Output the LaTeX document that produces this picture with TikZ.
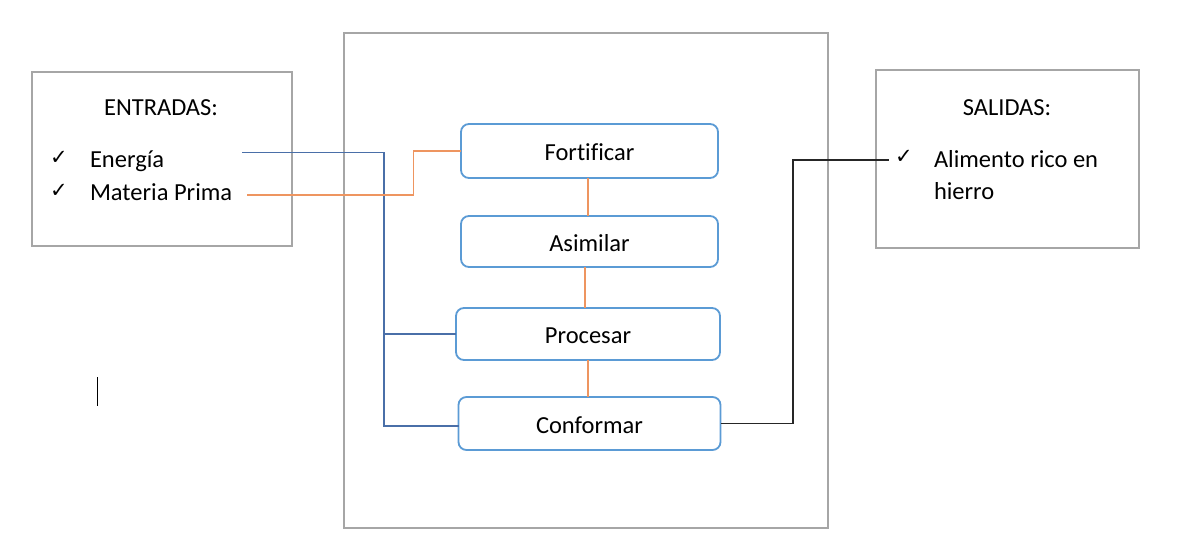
\documentclass[tikz,border=0pt]{standalone}
\usepackage{fontspec}
\setmainfont{Carlito}[Ligatures=NoCommon]
\newfontfamily\symf{DejaVu Sans}
\definecolor{boxgray}{HTML}{A6A6A6}
\definecolor{procblue}{HTML}{5B9BD5}
\definecolor{lineblue}{HTML}{4A6FA8}
\definecolor{lineorange}{HTML}{EE9560}
\definecolor{lineblack}{HTML}{262626}
\begin{document}
\begin{tikzpicture}[x=1pt,y=-1pt,
  graybox/.style={draw=boxgray,line width=2pt,inner sep=0pt,outer sep=0pt},
  procbox/.style={draw=procblue,line width=1.8pt,rounded corners=8pt,inner sep=0pt,outer sep=0pt,text height=19.5pt,text depth=0pt,font=\fontsize{24.5}{28}\selectfont},
  lbl/.style={inner sep=0pt,outer sep=0pt,font=\fontsize{24.5}{28}\selectfont},
  chk/.style={inner sep=0pt,outer sep=0pt,font=\symf\fontsize{21}{24}\selectfont},
  bluel/.style={draw=lineblue,line width=1.1pt},
  orangel/.style={draw=lineorange,line width=1.1pt},
  blackl/.style={draw=lineblack,line width=1.3pt}]
\useasboundingbox[fill=white] (0,0) rectangle (1177,559);
% outer boxes
\node[graybox,minimum width=260pt,minimum height=174pt] (entradas) at (162,159) {};
\node[graybox,minimum width=484pt,minimum height=495pt] (sistema) at (586,280.5) {};
\node[graybox,minimum width=263pt,minimum height=178pt] (salidas) at (1007.5,159) {};
% process boxes
\node[procbox,minimum width=257pt,minimum height=54pt] (fort) at (589.5,151) {Fortificar};
\node[procbox,minimum width=257pt,minimum height=51pt] (asim) at (589.5,241.5) {Asimilar};
\node[procbox,minimum width=264pt,minimum height=52pt] (proc) at (588,334) {Procesar};
\node[procbox,minimum width=262pt,minimum height=53pt] (conf) at (589.5,423.5) {Conformar};
% texts left
\node[lbl,anchor=base] (tent) at (161,116) {ENTRADAS:};
\node[chk,anchor=base west] (c1) at (50,164) {✓};
\node[chk,anchor=base west] (c2) at (50,197) {✓};
\node[lbl,anchor=base west] (ener) at (90,167) {Energía};
\node[lbl,anchor=base west] (mat) at (90,200) {Materia Prima};
% texts right
\node[lbl,anchor=base] (tsal) at (1007,116) {SALIDAS:};
\node[chk,anchor=base west] (c3) at (895,163) {✓};
\node[lbl,anchor=base west] (alim) at (934,167) {Alimento rico en};
\node[lbl,anchor=base west] (hier) at (934,199) {hierro};
% connector coordinates
\coordinate (eEnd) at (242,152.5);
\coordinate (mEnd) at (247,195);
\coordinate (bv) at (384,152.5);
\coordinate (ov) at (413.5,195);
\coordinate (kv) at (793,160);
\coordinate (kEnd) at (889,160);
% blue connectors
\draw[bluel] (eEnd) -- (bv) |- ([yshift=-2.5pt]conf.west);
\draw[bluel] (bv |- proc.west) -- (proc.west);
% orange connectors
\draw[orangel] (mEnd) -- (ov) |- (fort.west);
\draw[orangel] ([xshift=-1.5pt]fort.south) -- ([xshift=-1.5pt]fort.south |- asim.north);
\draw[orangel] ([xshift=-4.5pt]asim.south) -- ([xshift=-4.5pt]asim.south |- proc.north);
\draw[orangel] ([xshift=0pt]proc.south) -- ([xshift=0pt]proc.south |- conf.north);
% black connector
\draw[blackl] (conf.east) -| (kv) -- (kEnd);
% text cursor
\coordinate (cur1) at (97,377);
\coordinate (cur2) at (97,406);
\draw[black,line width=0.9pt] (cur1) -- (cur2);
\end{tikzpicture}
\end{document}
